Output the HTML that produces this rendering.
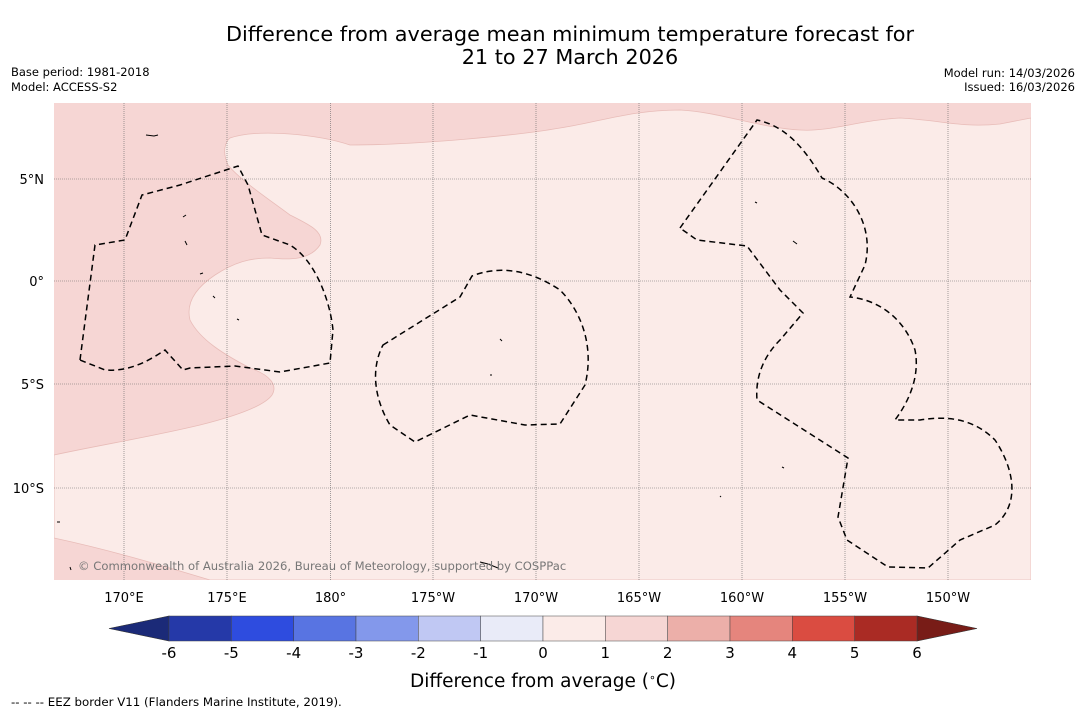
<!DOCTYPE html>
<html><head><meta charset="utf-8"><style>
body{margin:0;background:#fff;font-family:"Liberation Sans","DejaVu Sans",sans-serif;}
svg{display:block}
</style></head><body>
<svg width="1085" height="713" viewBox="0 0 1085 713" xmlns="http://www.w3.org/2000/svg" font-family="DejaVu Sans, Liberation Sans, sans-serif">
<text x="570" y="41" font-size="20.8" text-anchor="middle" fill="#000">Difference from average mean minimum temperature forecast for</text>
<text x="570" y="64" font-size="20.8" text-anchor="middle" fill="#000">21 to 27 March 2026</text>
<text x="11" y="76" font-size="11.5">Base period: 1981-2018</text>
<text x="11" y="91" font-size="11.5">Model: ACCESS-S2</text>
<text x="1075" y="77" font-size="11.5" text-anchor="end">Model run: 14/03/2026</text>
<text x="1075" y="91" font-size="11.5" text-anchor="end">Issued: 16/03/2026</text>

<g>
<clipPath id="mc"><rect x="54" y="103" width="977" height="477"/></clipPath>
<g clip-path="url(#mc)">
<rect x="54" y="103" width="977" height="477" fill="#f6d6d4"/>
<path fill="#fbebe8" stroke="#e8bcb8" stroke-width="0.8"
 d="M230,138 C260,128 320,135 350,145 C420,145 520,135 560,128 C600,122 630,110 680,110 C720,112 760,128 800,130 C830,132 860,120 900,118 C940,120 960,128 1000,124 L1031,118 L1031,580 L210,580 C160,565 110,550 54,538 L54,455 C100,445 150,437 200,425 C240,415 265,405 272,395 C278,385 270,375 250,368 C225,355 200,340 190,320 C185,300 200,285 215,275 C235,262 250,258 270,258 C290,260 310,260 320,245 C325,232 310,225 290,215 C270,200 240,180 228,165 C222,152 225,142 230,138 Z"/>
</g>
<g stroke="#666" stroke-width="0.6" stroke-dasharray="1,1">
<line x1="124" y1="103" x2="124" y2="580"/><line x1="227" y1="103" x2="227" y2="580"/><line x1="330.5" y1="103" x2="330.5" y2="580"/><line x1="433" y1="103" x2="433" y2="580"/><line x1="536" y1="103" x2="536" y2="580"/><line x1="639" y1="103" x2="639" y2="580"/><line x1="742" y1="103" x2="742" y2="580"/><line x1="845" y1="103" x2="845" y2="580"/><line x1="948" y1="103" x2="948" y2="580"/>
<line x1="54" y1="179" x2="1031" y2="179"/><line x1="54" y1="281" x2="1031" y2="281"/><line x1="54" y1="384" x2="1031" y2="384"/><line x1="54" y1="488" x2="1031" y2="488"/>
</g>
<g fill="none" stroke="#000" stroke-width="1.5" stroke-dasharray="6,4">
<path d="M80,360 L95,245 L125,240 L142,195 L180,185 L238,166 L248,185 L262,235 L290,245 C315,260 330,300 333,330 L330,363 L280,372 L235,366 L190,368 L183,370 L165,350 C150,360 130,372 105,370 Z"/>
<path d="M383,345 L460,297 L472,276 C500,265 530,270 560,290 C580,310 595,345 585,385 L560,424 L525,425 L470,415 L415,442 L390,425 C375,400 370,370 383,345 Z"/>
<path d="M680,228 L757,120 C780,125 800,140 822,178 C850,190 875,225 865,265 L850,297 C880,300 905,320 915,350 C920,375 910,400 895,420 L920,420 C950,415 975,420 995,440 C1015,470 1020,505 995,525 L960,540 L928,568 L888,567 L847,540 L838,517 L848,458 L757,400 C755,375 765,355 780,340 L803,313 L780,290 L747,246 L697,240 Z"/>
</g>
<g fill="none" stroke="#000" stroke-width="1">
<path d="M146,135 l8,1 l4,-1"/><path d="M183,217 l3,-2"/><path d="M185,241 l2,4"/><path d="M200,274 l3,-1"/><path d="M213,296 l2,2"/><path d="M237,319 l2,1"/><path d="M500,339 l2,2"/><path d="M755,202 l2,1"/><path d="M793,241 l4,3"/><path d="M782,467 l2,1"/><path d="M480,562 l8,2 l10,4"/><path d="M57,522 l3,0"/><path d="M70,567 l1,3"/><path d="M490,375 l2,0"/><path d="M720,496 l1,1"/>
</g>
<text x="78" y="570" font-size="11.6" fill="#777">© Commonwealth of Australia 2026, Bureau of Meteorology, supported by COSPPac</text>
</g>

<g font-size="13" text-anchor="end">
<text x="44" y="184">5°N</text><text x="44" y="286">0°</text><text x="44" y="389">5°S</text><text x="44" y="493">10°S</text>
</g>
<g font-size="13" text-anchor="middle">
<text x="124" y="602">170°E</text><text x="227" y="602">175°E</text><text x="330.5" y="602">180°</text><text x="433" y="602">175°W</text><text x="536" y="602">170°W</text><text x="639" y="602">165°W</text><text x="742" y="602">160°W</text><text x="845" y="602">155°W</text><text x="948" y="602">150°W</text>
</g>

<g id="cbar"></g>
<text x="543" y="687" font-size="18.5" text-anchor="middle">Difference from average (<tspan baseline-shift="super" font-size="11">∘</tspan>C)</text>
<text x="11" y="706" font-size="11.8">--  --  -- EEZ border V11 (Flanders Marine Institute, 2019).</text>
</svg>
<script>
const levels = [-6,-5,-4,-3,-2,-1,0,1,2,3,4,5,6];
const binColors = ["#2539a8","#2e4cdf","#5874e2","#8398eb","#c0c8f3","#e9ebf8","#fbebe8","#f6d6d4","#ecafa9","#e5857d","#da4c41","#aa2b24"];
const lowExt = "#1b2a78", highExt = "#781c17";
const NS="http://www.w3.org/2000/svg";
const g=document.getElementById('cbar');
const x0=169,x1=917,y0=616,y1=641;
const xs=v=>x0+(v-levels[0])/(levels[levels.length-1]-levels[0])*(x1-x0);
function mk(t,a){const e=document.createElementNS(NS,t);for(const k in a)e.setAttribute(k,a[k]);g.appendChild(e);return e;}
let lo=mk('polygon',{points:`${x0},${y0} ${x0},${y1} 109,${(y0+y1)/2}`,fill:lowExt,stroke:'#333','stroke-width':0.6});


let hi=mk('polygon',{points:`${x1},${y0} ${x1},${y1} 977,${(y0+y1)/2}`,fill:highExt,stroke:'#333','stroke-width':0.6});


for(let i=0;i<binColors.length;i++){
  const r=mk('rect',{x:xs(levels[i]),y:y0,width:xs(levels[i+1])-xs(levels[i]),height:y1-y0,fill:binColors[i],stroke:'#444','stroke-width':0.5});
  
  
}
for(const v of levels){
  const t=mk('text',{x:xs(v),y:658,'font-size':15,'text-anchor':'middle'});
  t.textContent=String(v);
  
  
}
</script>
</body></html>
